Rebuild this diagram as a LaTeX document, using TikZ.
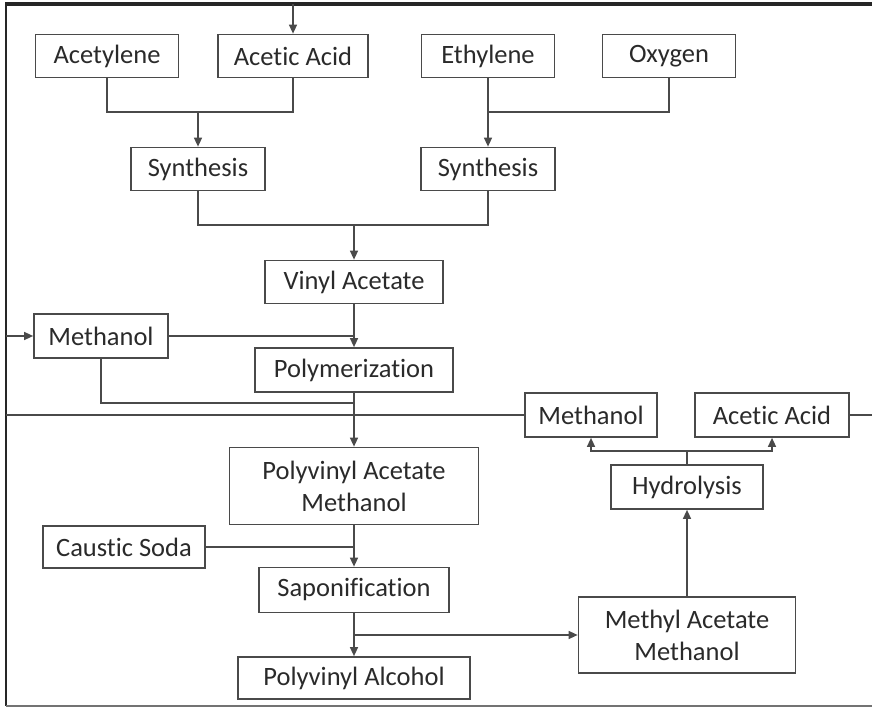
\documentclass[tikz,border=0pt]{standalone}
\usepackage{fontspec}
\setmainfont{Carlito}[Ligatures=NoCommon]
\usetikzlibrary{arrows.meta}
\definecolor{txt}{HTML}{2A2A2A}
\definecolor{ln}{HTML}{4A4A4A}
\tikzset{
  box/.style={draw=ln, line width=1.7pt, text=txt, inner sep=0pt, align=center,
    font=\fontsize{26.5}{32}\selectfont},
  conn/.style={draw=ln, line width=1.4pt},
  arr/.style={conn, -{Triangle[length=9pt,width=8pt]}},
  frame/.style={draw=black!85, line width=3.2pt}
}
\begin{document}
\begin{tikzpicture}[x=1pt,y=-1pt]
\useasboundingbox (0,0) rectangle (872,708);
% nodes
\node[box, minimum width=143pt, minimum height=43pt] (acet) at (107,56) {Acetylene};
\node[box, minimum width=150pt, minimum height=43pt] (aa1) at (293,56) {Acetic Acid};
\node[box, minimum width=133pt, minimum height=43pt] (eth) at (488,56) {Ethylene};
\node[box, minimum width=133pt, minimum height=43pt] (oxy) at (669,56) {Oxygen};
\node[box, minimum width=134pt, minimum height=43pt] (syn1) at (198,169) {Synthesis};
\node[box, minimum width=134pt, minimum height=43pt] (syn2) at (488,169) {Synthesis};
\node[box, minimum width=178pt, minimum height=43pt] (va) at (354,282) {Vinyl Acetate};
\node[box, minimum width=134pt, minimum height=44pt] (meth1) at (101,336) {Methanol};
\node[box, minimum width=198pt, minimum height=44pt] (poly) at (354,370) {Polymerization};
\node[box, minimum width=132pt, minimum height=44pt] (meth2) at (591,415) {Methanol};
\node[box, minimum width=154pt, minimum height=44pt] (aa2) at (772,415) {Acetic Acid};
\node[box, minimum width=152pt, minimum height=44pt] (hyd) at (687,487) {Hydrolysis};
\node[box, minimum width=249pt, minimum height=77pt] (pva) at (354,486) {Polyvinyl Acetate\\Methanol};
\node[box, minimum width=162pt, minimum height=42pt] (cs) at (124,547) {Caustic Soda};
\node[box, minimum width=190pt, minimum height=45pt] (sap) at (354,590) {Saponification};
\node[box, minimum width=232pt, minimum height=42pt] (pvoh) at (354,678) {Polyvinyl Alcohol};
\node[box, minimum width=217pt, minimum height=76pt] (mam) at (687,635) {Methyl Acetate\\Methanol};
% helper coordinates
\coordinate (j1) at (198,112);
\coordinate (j2) at (354,225);
\coordinate (j3) at (354,403);
\coordinate (j4) at (687,451);
\coordinate (j5) at (354,635);
\coordinate (tl) at (5,4);
\coordinate (tr) at (872,4);
\coordinate (bl) at (6,706);
\coordinate (br) at (872,706);
\coordinate (lin) at (6,336);
\coordinate (rgt) at (872,415);
\coordinate (lft) at (6,415);
% frame
\draw[frame] (tl) -- (tr);
\draw[frame, line width=2.6pt] (6,4) -- (bl);
\draw[draw=black!55, line width=1.6pt] (bl) -- (br);
% connectors
\draw[conn] (acet.south) |- (j1) -| (aa1.south);
\draw[arr] (j1) -- (syn1.north);
\draw[conn] (oxy.south) |- (eth.south |- j1);
\draw[arr] (eth.south) -- (syn2.north);
\draw[conn] (syn1.south) |- (j2) -| (syn2.south);
\draw[arr] (j2) -- (va.north);
\draw[arr] (va.south) -- (poly.north);
\draw[conn] (meth1.east) -- (meth1.east -| va.south);
\draw[arr] (lin) -- (meth1.west);
\draw[conn] (meth1.south) |- (j3);
\draw[arr] (poly.south) -- (pva.north);
\draw[conn] (meth2.west) -- (lft);
\draw[conn] (aa2.east) -- (rgt);
\draw[arr] (aa1.north |- tl) -- (aa1.north);
\draw[conn] (hyd.north) -- (j4);
\draw[arr] (j4) -| (meth2.south);
\draw[arr] (j4) -| (aa2.south);
\draw[arr] (mam.north) -- (hyd.south);
\draw[conn] (cs.east) -- (cs.east -| sap.north);
\draw[arr] (pva.south) -- (sap.north);
\draw[arr] (sap.south) -- (pvoh.north);
\draw[arr] (j5) -- (mam.west);
\end{tikzpicture}
\end{document}
